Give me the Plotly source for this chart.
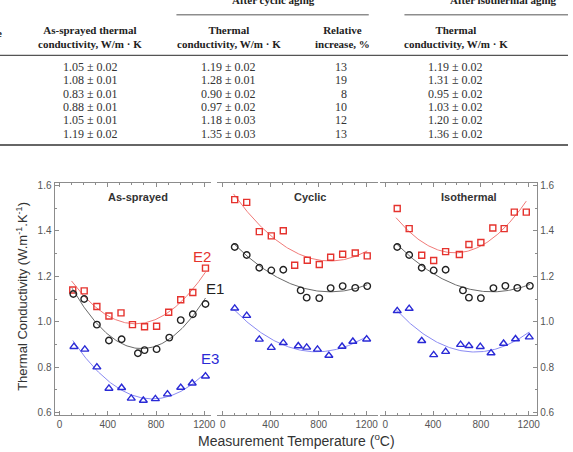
import numpy as np
import plotly.graph_objects as go

# ---------------- data: table (cropped view) ----------------
as_sprayed_tc = ["1.05 ± 0.02", "1.08 ± 0.01", "0.83 ± 0.01", "0.88 ± 0.01", "1.05 ± 0.01", "1.19 ± 0.02"]
cyclic_tc = ["1.19 ± 0.02", "1.28 ± 0.01", "0.90 ± 0.02", "0.97 ± 0.02", "1.18 ± 0.03", "1.35 ± 0.03"]
cyclic_rel_increase = ["13", "19", "8", "10", "12", "13"]
isothermal_tc = ["1.19 ± 0.02", "1.31 ± 0.02", "0.95 ± 0.02", "1.03 ± 0.02", "1.20 ± 0.02", "1.36 ± 0.02"]

# ---------------- data: charts ----------------
panel_titles = ["As-sprayed", "Cyclic", "Isothermal"]
series_names = ["E2", "E1", "E3"]

# As-sprayed
as_T_E2 = [110, 205, 310, 410, 510, 605, 705, 805, 905, 1005, 1105, 1210]
as_k_E2 = [1.140, 1.136, 1.067, 1.025, 1.039, 0.987, 0.978, 0.980, 1.042, 1.097, 1.129, 1.236]
as_T_E1 = [115, 205, 310, 410, 515, 650, 705, 805, 910, 1005, 1105, 1210]
as_k_E1 = [1.122, 1.100, 0.987, 0.917, 0.923, 0.861, 0.875, 0.879, 0.930, 1.007, 1.033, 1.078]
as_T_E3 = [120, 210, 310, 410, 515, 595, 695, 795, 895, 1005, 1100, 1210]
as_k_E3 = [0.890, 0.878, 0.800, 0.706, 0.709, 0.662, 0.653, 0.660, 0.681, 0.710, 0.729, 0.760]

# Cyclic
cy_T_E2 = [100, 200, 305, 405, 505, 600, 705, 805, 900, 1000, 1105, 1205]
cy_k_E2 = [1.538, 1.526, 1.397, 1.378, 1.401, 1.249, 1.271, 1.252, 1.284, 1.297, 1.303, 1.290]
cy_T_E1 = [100, 200, 305, 405, 505, 650, 700, 805, 900, 1000, 1105, 1205]
cy_k_E1 = [1.329, 1.294, 1.238, 1.226, 1.229, 1.138, 1.106, 1.104, 1.148, 1.157, 1.149, 1.157]
cy_T_E3 = [100, 200, 305, 405, 505, 630, 700, 790, 885, 995, 1085, 1200]
cy_k_E3 = [1.059, 1.027, 0.922, 0.886, 0.907, 0.893, 0.887, 0.878, 0.851, 0.891, 0.913, 0.923]

# Isothermal
iso_T_E2 = [100, 200, 305, 405, 505, 620, 700, 800, 900, 995, 1080, 1180]
iso_k_E2 = [1.499, 1.410, 1.293, 1.270, 1.309, 1.296, 1.340, 1.349, 1.413, 1.410, 1.483, 1.483]
iso_T_E1 = [100, 200, 305, 405, 505, 650, 700, 800, 905, 1005, 1105, 1210]
iso_k_E1 = [1.329, 1.294, 1.238, 1.226, 1.229, 1.138, 1.106, 1.104, 1.148, 1.158, 1.149, 1.158]
iso_T_E3 = [100, 200, 305, 405, 505, 630, 700, 795, 885, 990, 1090, 1205]
iso_k_E3 = [1.048, 1.058, 0.916, 0.854, 0.868, 0.899, 0.894, 0.890, 0.862, 0.904, 0.924, 0.932]

y_ticks = [0.6, 0.8, 1.0, 1.2, 1.4, 1.6]
x_ticks = [0, 400, 800, 1200]

# ---------------- layout helpers ----------------
W, H = 573, 452
def px(x):
    return x / W
def py(y):
    return 1 - y / H

panels = [
    dict(T=[as_T_E2, as_T_E1, as_T_E3], k=[as_k_E2, as_k_E1, as_k_E3]),
    dict(T=[cy_T_E2, cy_T_E1, cy_T_E3], k=[cy_k_E2, cy_k_E1, cy_k_E3]),
    dict(T=[iso_T_E2, iso_T_E1, iso_T_E3], k=[iso_k_E2, iso_k_E1, iso_k_E3]),
]
marker_col = ["#e5332e", "#222222", "#2a2ad6"]
line_col = ["#f07a78", "#6a6a6a", "#8a8af2"]
symbols = ["square-open", "circle-open", "triangle-up-open"]
msize = [6, 6.5, 7]

x_domains = [[px(55), px(213)], [px(219), px(381)], [px(383), px(542)]]
x_ranges = [[-41, 1257], [-47, 1292], [-47, 1272]]
y_domain = [py(418), py(182)]
y_range = [0.587, 1.613]

fig = go.Figure()
for i, p in enumerate(panels):
    xa = "x" if i == 0 else f"x{i+1}"
    ya = "y" if i == 0 else f"y{i+1}"
    for j in range(3):
        T = np.array(p["T"][j], dtype=float)
        k = np.array(p["k"][j], dtype=float)
        coef = np.polyfit(T, k, 2)
        tt = np.linspace(T.min() - 10, T.max(), 120)
        fig.add_trace(go.Scatter(x=tt, y=np.polyval(coef, tt), mode="lines",
                                 line=dict(color=line_col[j], width=1),
                                 xaxis=xa, yaxis=ya, showlegend=False, hoverinfo="skip"))
        fig.add_trace(go.Scatter(x=T, y=k, mode="markers",
                                 marker=dict(symbol=symbols[j], size=msize[j], color=marker_col[j],
                                             line=dict(width=1.4, color=marker_col[j])),
                                 xaxis=xa, yaxis=ya, showlegend=False, name=series_names[j]))

axis_col = "#8c8c8c"
tick_font = dict(family="Liberation Sans, Arial", size=10, color="#555555")
common_x = dict(tickvals=x_ticks, ticks="inside", ticklen=4, tickcolor=axis_col,
                showline=True, linecolor=axis_col, linewidth=1, mirror="ticks",
                showgrid=False, zeroline=False, tickfont=tick_font,
                minor=dict(dtick=100, ticks="inside", ticklen=2, tickcolor=axis_col))
layout = dict(width=W, height=H, margin=dict(l=0, r=0, t=0, b=0),
              paper_bgcolor="white", plot_bgcolor="white", showlegend=False)
for i in range(3):
    key = "xaxis" if i == 0 else f"xaxis{i+1}"
    d = dict(common_x)
    d.update(domain=x_domains[i], range=x_ranges[i], anchor="y" if i == 0 else f"y{i+1}")
    layout[key] = d

common_y = dict(range=y_range, domain=y_domain, tickvals=y_ticks, tickformat=".1f",
                ticks="inside", ticklen=4, tickcolor=axis_col, showgrid=False, zeroline=False,
                tickfont=tick_font,
                minor=dict(dtick=0.1, ticks="inside", ticklen=2, tickcolor=axis_col))
y1 = dict(common_y); y1.update(anchor="x", side="left", showline=True, linecolor=axis_col, linewidth=1)
y2 = dict(common_y); y2.update(anchor="x2", visible=False)
y3 = dict(common_y); y3.update(anchor="x3", side="right", showline=True, linecolor=axis_col, linewidth=1)
layout["yaxis"] = y1
layout["yaxis2"] = y2
layout["yaxis3"] = y3
fig.update_layout(**layout)

ann = []
def A(text, x, y, font, xanchor="center", yanchor="middle", **kw):
    d = dict(text=text, x=px(x), y=py(y), xref="paper", yref="paper", showarrow=False,
             xanchor=xanchor, yanchor=yanchor, font=font)
    d.update(kw)
    ann.append(d)

sans = "Liberation Sans, Arial"
# panel titles
for t, cx in zip(panel_titles, [139, 313, 473]):
    A(f"<b>{t}</b>", cx, 197, dict(family=sans, size=11, color="#333333"))
# series labels
for t, (cx, cy), c in zip(series_names, [(204, 257), (217, 289), (212, 360)], marker_col):
    A(t, cx, cy, dict(family=sans, size=15, color=c))
# axis titles
A("Measurement Temperature (<sup>o</sup>C)", 299, 443, dict(family=sans, size=14, color="#333333"))
A("Thermal Conductivity (W.m<sup>-1</sup>.K<sup>-1</sup>)", 22, 297,
  dict(family=sans, size=13, color="#333333"), textangle=-90)

# table
serif = "Liberation Serif, Times New Roman"
hfont = dict(family=serif, size=11, color="#222222")
dfont = dict(family=serif, size=12, color="#333333")
A("<b>After cyclic aging</b>", 276, -3, hfont)
A("<b>After isothermal aging</b>", 452, -3, hfont, xanchor="left")
A("<b>Sample</b>", 4, 30, hfont, xanchor="right")
for t, cx in [("As-sprayed thermal<br>conductivity, W/m · K", 91),
              ("Thermal<br>conductivity, W/m · K", 231),
              ("Relative<br>increase, %", 346),
              ("Thermal<br>conductivity, W/m · K", 460)]:
    A(f"<b>{t}</b>", cx, 34.5, hfont, align="center")
row_y = [65, 78.5, 92, 105.5, 119, 132.5]
for r, yy in enumerate(row_y):
    A(as_sprayed_tc[r], 91, yy, dfont)
    A(cyclic_tc[r], 231, yy, dfont)
    A(cyclic_rel_increase[r], 352, yy, dfont, xanchor="right")
    A(isothermal_tc[r], 460, yy, dfont)

shapes = [
    dict(type="line", xref="paper", yref="paper", x0=px(178), x1=px(372), y0=py(12), y1=py(12),
         line=dict(color="#555555", width=1)),
    dict(type="line", xref="paper", yref="paper", x0=px(408), x1=px(573), y0=py(12), y1=py(12),
         line=dict(color="#555555", width=1)),
    dict(type="line", xref="paper", yref="paper", x0=0, x1=1, y0=py(53), y1=py(53),
         line=dict(color="#555555", width=1.2)),
    dict(type="line", xref="paper", yref="paper", x0=0, x1=1, y0=py(144), y1=py(144),
         line=dict(color="#666666", width=2)),
]
fig.update_layout(annotations=ann, shapes=shapes)
fig.write_html("out.html", config={"displayModeBar": False},
               post_script="document.body.style.margin='0';document.body.style.padding='0';")
